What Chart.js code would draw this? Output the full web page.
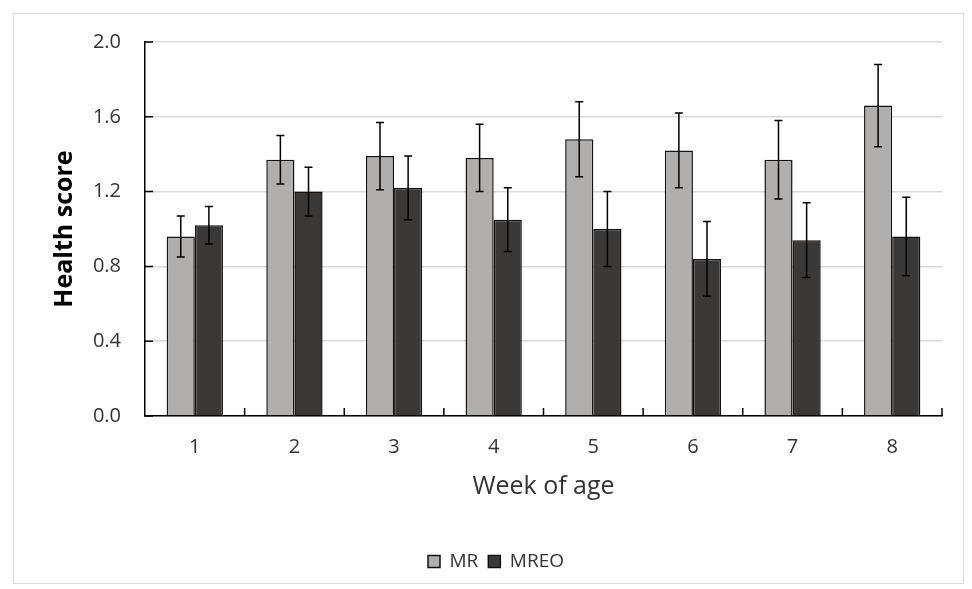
<!DOCTYPE html>
<html lang="en">
<head>
    <meta charset="UTF-8">
    <title>Health score by week of age</title>
    <script src="https://cdn.jsdelivr.net/npm/chart.js"></script>
    <style>
        body { margin: 0; background: #fff; }
        .wrap { position: relative; width: 972px; height: 589px; }
        .frame {
            position: absolute; left: 13px; top: 13px;
            width: 951px; height: 571px;
            border: 1px solid #d9d9d9;
            box-sizing: border-box;
        }
        canvas { position: absolute; left: 0; top: 0; }
    </style>
</head>
<body>
    <div class="wrap">
        <div class="frame"></div>
        <canvas id="chart" width="972" height="589"></canvas>
    </div>
    <script>
        // data
        const weeks = ['1', '2', '3', '4', '5', '6', '7', '8'];
        const mrValues = [0.96, 1.37, 1.39, 1.38, 1.48, 1.42, 1.37, 1.66];
        const mrErrors = [0.11, 0.13, 0.18, 0.18, 0.20, 0.20, 0.21, 0.22];
        const mreoValues = [1.02, 1.20, 1.22, 1.05, 1.00, 0.84, 0.94, 0.96];
        const mreoErrors = [0.10, 0.13, 0.17, 0.17, 0.20, 0.20, 0.20, 0.21];
        const yTicks = [0, 0.4, 0.8, 1.2, 1.6, 2.0];

        const errorLists = [mrErrors, mreoErrors];
        const FONT = "'Open Sans', sans-serif";

        // error bars drawn from the scales
        const errorBars = {
            id: 'errorBars',
            afterDatasetsDraw(chart) {
                const ctx = chart.ctx;
                const y = chart.scales.y;
                ctx.save();
                ctx.strokeStyle = '#000';
                ctx.lineWidth = 1.5;
                chart.data.datasets.forEach((ds, di) => {
                    const meta = chart.getDatasetMeta(di);
                    meta.data.forEach((bar, i) => {
                        const v = ds.data[i];
                        const e = errorLists[di][i];
                        const top = y.getPixelForValue(v + e);
                        const bot = y.getPixelForValue(v - e);
                        ctx.beginPath();
                        ctx.moveTo(bar.x, top); ctx.lineTo(bar.x, bot);
                        ctx.moveTo(bar.x - 4, top); ctx.lineTo(bar.x + 4, top);
                        ctx.moveTo(bar.x - 4, bot); ctx.lineTo(bar.x + 4, bot);
                        ctx.stroke();
                    });
                });
                ctx.restore();
            }
        };

        // inside tick marks like the original
        const insideTicks = {
            id: 'insideTicks',
            afterDatasetsDraw(chart) {
                const ctx = chart.ctx;
                const x = chart.scales.x;
                const y = chart.scales.y;
                ctx.save();
                ctx.strokeStyle = '#000';
                ctx.lineWidth = 1.5;
                ctx.beginPath();
                yTicks.forEach(t => {
                    const py = y.getPixelForValue(t);
                    ctx.moveTo(x.left, py); ctx.lineTo(x.left + 8, py);
                });
                const step = (x.right - x.left) / weeks.length;
                for (let i = 1; i <= weeks.length; i++) {
                    const px = x.left + step * i;
                    ctx.moveTo(px, y.bottom); ctx.lineTo(px, y.bottom - 8);
                }
                ctx.stroke();
                ctx.restore();
            }
        };

        new Chart(document.getElementById('chart'), {
            type: 'bar',
            data: {
                labels: weeks,
                datasets: [{
                    label: 'MR',
                    data: mrValues,
                    backgroundColor: '#b1aeae',
                    borderColor: '#111',
                    borderWidth: 1.5
                }, {
                    label: 'MREO',
                    data: mreoValues,
                    backgroundColor: '#3b3838',
                    borderColor: '#111',
                    borderWidth: 1.5
                }]
            },
            options: {
                responsive: false,
                animation: false,
                layout: { padding: { left: 50, right: 30, top: 42, bottom: 8 } },
                datasets: { bar: { categoryPercentage: 0.565, barPercentage: 1 } },
                plugins: {
                    tooltip: { enabled: false },
                    legend: {
                        position: 'bottom',
                        labels: {
                            font: { family: FONT, size: 19 },
                            color: '#333',
                            boxWidth: 12,
                            boxHeight: 12,
                            padding: 10
                        }
                    }
                },
                scales: {
                    x: {
                        afterFit(scale) { scale.height = 126; },
                        grid: { display: false, drawTicks: false },
                        border: { color: '#000', width: 1.5 },
                        ticks: { font: { family: FONT, size: 20 }, color: '#333', padding: 19 },
                        title: {
                            display: true,
                            text: 'Week of age',
                            font: { family: FONT, size: 25 },
                            color: '#333',
                            padding: { top: 8, bottom: 40 }
                        }
                    },
                    y: {
                        min: 0,
                        max: 2,
                        afterFit(scale) { scale.width = 95; },
                        afterBuildTicks(scale) { scale.ticks = yTicks.map(v => ({ value: v })); },
                        grid: { color: '#d9d9d9', lineWidth: 1.5, drawTicks: false },
                        border: { color: '#000', width: 1.5 },
                        ticks: {
                            font: { family: FONT, size: 20 },
                            color: '#333',
                            padding: 24,
                            callback: v => v.toFixed(1)
                        },
                        title: {
                            display: true,
                            text: 'Health score',
                            font: { family: FONT, size: 25, weight: 'bold' },
                            color: '#000',
                            padding: 0
                        }
                    }
                }
            },
            plugins: [errorBars, insideTicks]
        });
    </script>
</body>
</html>
